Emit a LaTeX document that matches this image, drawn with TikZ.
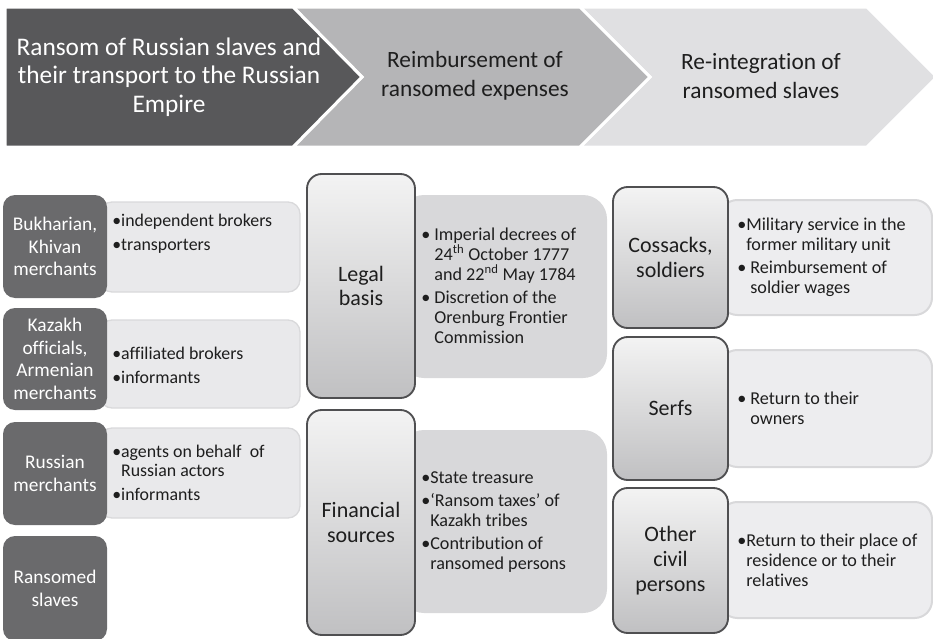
\documentclass[tikz,border=0pt]{standalone}
\usepackage{fontspec}
\setmainfont{Carlito}[Ligatures={NoCommon,NoContextual}]
\definecolor{chevA}{HTML}{58585A}
\definecolor{chevB}{HTML}{B5B5B7}
\definecolor{chevC}{HTML}{E0E0E2}
\definecolor{actor}{HTML}{6A6A6C}
\definecolor{roleL}{HTML}{E9E9EB}
\definecolor{roleLb}{HTML}{D9D9DB}
\definecolor{roleM}{HTML}{D8D8DA}
\definecolor{roleR}{HTML}{EDEDEF}
\definecolor{roleRb}{HTML}{D8D8DA}
\definecolor{gradTop}{HTML}{F3F3F3}
\definecolor{gradBot}{HTML}{C0C0C2}
\definecolor{gradEdge}{HTML}{4F4F51}
\definecolor{ink}{HTML}{1E1E1E}
\newcommand{\bl}{•}
\newcommand{\bi}{\phantom{•}}
\newcommand{\bis}{\phantom{•\ }}
\begin{document}
\begin{tikzpicture}[x=0.75pt,y=-0.75pt,
  chevron/.style={draw=white,line width=2.25pt,line join=miter},
  headA/.style={font=\fontsize{19pt}{21.4pt}\selectfont,text=white,align=center},
  headB/.style={font=\fontsize{17.5pt}{21.4pt}\selectfont,text=ink,align=center},
  actorbox/.style={fill=actor,rounded corners=9pt,inner sep=0pt,outer sep=0pt,
    text=white,align=center,font=\fontsize{14.5pt}{17pt}\selectfont,minimum width=78pt},
  roleLbox/.style={fill=roleL,draw=roleLb,line width=1pt,rounded corners=9pt,
    inner sep=0pt,minimum width=150pt},
  roleMbox/.style={fill=roleM,rounded corners=18pt,inner sep=0pt,minimum width=155.25pt},
  roleRbox/.style={fill=roleR,draw=roleRb,line width=1.5pt,rounded corners=13pt,
    inner sep=0pt,minimum width=159pt},
  gradbox/.style={top color=gradTop,bottom color=gradBot,draw=gradEdge,line width=1.4pt,
    rounded corners=11pt,inner sep=0pt,outer sep=0pt,text=ink,align=center,
    font=\fontsize{16.5pt}{18.5pt}\selectfont},
  listL/.style={anchor=west,inner sep=0pt,align=left,text=ink,
    font=\fontsize{13.4pt}{14.3pt}\selectfont},
  listM/.style={anchor=west,inner sep=0pt,align=left,text=ink,
    font=\fontsize{13.6pt}{15pt}\selectfont},
]
\useasboundingbox (0,0) rectangle (933,639);
\clip (0,0) rectangle (933,639);

% process chevrons
\path[chevron,fill=chevC] (580,7) -- (867,7) -- (937,77) -- (867,147) -- (580,147) -- (650,77) -- cycle;
\path[chevron,fill=chevB] (293,7) -- (580,7) -- (650,77) -- (580,147) -- (293,147) -- (362,77) -- cycle;
\path[chevron,fill=chevA] (5,7) -- (293,7) -- (362,77) -- (293,147) -- (5,147) -- cycle;
\node[headA] (h1) at (169,77) {Ransom of Russian slaves and\\their transport to the Russian\\Empire};
\node[headB] (h2) at (475,76) {Reimbursement of\\ransomed expenses};
\node[headB] (h3) at (761,76) {Re-integration of\\ransomed slaves};

% left column: actors and their roles
\node[roleLbox,minimum height=67.5pt] (l1) at (200,247) {};
\node[roleLbox,minimum height=66pt] (l2) at (200,364) {};
\node[roleLbox,minimum height=67.5pt] (l3) at (200,473) {};
\node[actorbox,minimum height=77.25pt] (a1) at (55,246.5) {Bukharian,\\Khivan\\merchants};
\node[actorbox,minimum height=76.5pt] (a2) at (55,359) {Kazakh\\officials,\\Armenian\\merchants};
\node[actorbox,minimum height=77.25pt] (a3) at (55,473.5) {Russian\\merchants};
\node[actorbox,minimum height=78.75pt] (a4) at (55,588.5) {Ransomed\\slaves};
\node[listL] (l1t) at (112,234) {\bl independent brokers\\[3.5pt]\bl transporters};
\node[listL] (l2t) at (112,365) {\bl affiliated brokers\\[3.5pt]\bl informants};
\node[listL] (l3t) at (112,473) {\bl agents on behalf\ \ of\\\bi Russian actors\\[3.5pt]\bl informants};

% middle column: reimbursement
\node[roleMbox,minimum height=137.25pt] (m1) at (503.5,286.5) {};
\node[roleMbox,minimum height=137.25pt] (m2) at (503.5,521.5) {};
\node[gradbox,minimum width=81pt,minimum height=168pt] (g1) at (361,286) {Legal\\basis};
\node[gradbox,minimum width=81pt,minimum height=168.75pt] (g2) at (361,522.5) {Financial\\sources};
\node[listM] (m1t) at (421,286) {\bl\ Imperial decrees of\\\bis 24\textsuperscript{th} October 1777\\\bis and 22\textsuperscript{nd} May 1784\\[2pt]\bl\ Discretion of the\\\bis Orenburg Frontier\\\bis Commission};
\node[listM] (m2t) at (421,522) {\bl State treasure\\[2pt]\bl ‘Ransom taxes’ of\\\bi Kazakh tribes\\[2pt]\bl Contribution of\\\bi ransomed persons};

% right column: re-integration
\node[roleRbox,minimum height=86.25pt] (r1) at (826,257.5) {};
\node[roleRbox,minimum height=87.75pt] (r2) at (826,408.5) {};
\node[roleRbox,minimum height=87pt] (r3) at (826,560) {};
\node[gradbox,minimum width=86.25pt,minimum height=105.75pt] (c1) at (670.5,257.5) {Cossacks,\\soldiers};
\node[gradbox,minimum width=86.25pt,minimum height=107.25pt] (c2) at (670.5,408.5) {Serfs};
\node[gradbox,minimum width=86.25pt,minimum height=108.75pt] (c3) at (670.5,560.5) {Other\\civil\\persons};
\node[listM] (r1t) at (737,257.5) {\bl Military service in the\\\bi former military unit\\[2pt]\bl\ Reimbursement of\\\bis soldier wages};
\node[listM] (r2t) at (737,408) {\bl\ Return to their\\\bis owners};
\node[listM] (r3t) at (737,560) {\bl Return to their place of\\\bi residence or to their\\\bi relatives};
\end{tikzpicture}
\end{document}
